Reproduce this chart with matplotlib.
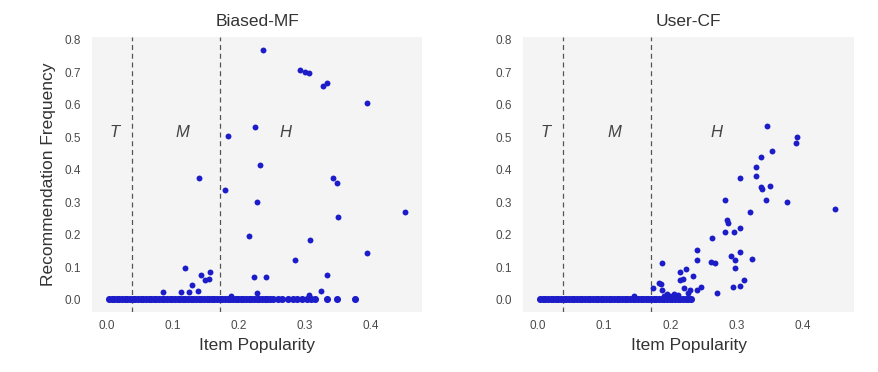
import matplotlib
matplotlib.use("Agg")
import matplotlib.pyplot as plt
import numpy as np

plt.rcParams['font.family'] = ['Liberation Sans', 'DejaVu Sans']

titles = ["Biased-MF", "User-CF"]
xticks = [0.0, 0.1, 0.2, 0.3, 0.4]
yticks = [0.0, 0.1, 0.2, 0.3, 0.4, 0.5, 0.6, 0.7, 0.8]
boundaries = [0.038, 0.171]
region_labels = ["T", "M", "H"]
region_x = [0.012, 0.115, 0.27]
region_y = 0.515

# Biased-MF: items with non-zero recommendation frequency
mf_x = [0.2365, 0.293, 0.2997, 0.306, 0.327, 0.333, 0.394, 0.225, 0.1835, 0.232,
        0.140, 0.342, 0.348, 0.179, 0.228, 0.350, 0.215, 0.308, 0.394, 0.285,
        0.118, 0.333, 0.142, 0.156, 0.154, 0.149, 0.223, 0.241, 0.129, 0.138,
        0.085, 0.112, 0.125, 0.324, 0.228, 0.307, 0.188, 0.452]
mf_y = [0.768, 0.707, 0.702, 0.698, 0.659, 0.668, 0.606, 0.530, 0.504, 0.415,
        0.373, 0.373, 0.360, 0.337, 0.299, 0.253, 0.195, 0.183, 0.143, 0.121,
        0.098, 0.076, 0.076, 0.086, 0.064, 0.059, 0.068, 0.068, 0.046, 0.027,
        0.023, 0.023, 0.023, 0.027, 0.019, 0.013, 0.010, 0.268]
# Biased-MF: items (popularity) that are (almost) never recommended
mf_zero_x = [0.003, 0.007, 0.011, 0.015, 0.019, 0.023, 0.027, 0.031, 0.035, 0.039,
             0.043, 0.047, 0.051, 0.055, 0.059, 0.063, 0.067, 0.071, 0.075, 0.079,
             0.083, 0.087, 0.091, 0.095, 0.099, 0.103, 0.107, 0.111, 0.115, 0.119,
             0.123, 0.127, 0.131, 0.135, 0.139, 0.143, 0.147, 0.151, 0.155, 0.159,
             0.163, 0.167, 0.171, 0.175, 0.179, 0.183, 0.187, 0.191, 0.195, 0.199,
             0.203, 0.207, 0.211, 0.215, 0.219, 0.223, 0.227, 0.231, 0.235, 0.239,
             0.243, 0.247, 0.251, 0.259, 0.266, 0.274, 0.282, 0.288, 0.295, 0.303,
             0.310, 0.315, 0.334, 0.349, 0.376]
mf_zero_y = [0.002, 0.000, 0.002, 0.000, 0.001, 0.000, 0.002, 0.000, 0.001, 0.000,
             0.002, 0.000, 0.001, 0.000, 0.002, 0.000, 0.001, 0.000, 0.002, 0.000,
             0.001, 0.000, 0.002, 0.000, 0.001, 0.000, 0.002, 0.000, 0.001, 0.000,
             0.002, 0.000, 0.001, 0.000, 0.002, 0.000, 0.001, 0.000, 0.002, 0.000,
             0.001, 0.000, 0.002, 0.000, 0.001, 0.000, 0.002, 0.000, 0.001, 0.000,
             0.002, 0.000, 0.001, 0.000, 0.002, 0.000, 0.001, 0.000, 0.002, 0.000,
             0.001, 0.000, 0.000, 0.000, 0.000, 0.000, 0.000, 0.000, 0.000, 0.000,
             0.000, 0.000, 0.000, 0.000, 0.000]

# User-CF: items with non-zero recommendation frequency
cf_x = [0.346, 0.392, 0.390, 0.353, 0.337, 0.330, 0.330, 0.305, 0.337, 0.338,
        0.351, 0.344, 0.376, 0.449, 0.283, 0.320, 0.286, 0.287, 0.283, 0.296,
        0.305, 0.263, 0.241, 0.305, 0.241, 0.291, 0.298, 0.324, 0.262, 0.268,
        0.187, 0.298, 0.224, 0.215, 0.219, 0.215, 0.235, 0.311, 0.183, 0.186,
        0.294, 0.305, 0.247, 0.174, 0.271, 0.220, 0.230, 0.240, 0.188, 0.145,
        0.195, 0.200, 0.206, 0.212, 0.226, 0.228, 0.191]
cf_y = [0.535, 0.499, 0.482, 0.457, 0.438, 0.407, 0.381, 0.375, 0.347, 0.341,
        0.350, 0.306, 0.301, 0.279, 0.306, 0.271, 0.246, 0.236, 0.209, 0.209,
        0.221, 0.188, 0.152, 0.147, 0.122, 0.133, 0.122, 0.125, 0.117, 0.112,
        0.112, 0.097, 0.094, 0.086, 0.064, 0.061, 0.072, 0.059, 0.051, 0.049,
        0.038, 0.042, 0.038, 0.034, 0.020, 0.036, 0.028, 0.028, 0.028, 0.012,
        0.016, 0.012, 0.018, 0.014, 0.020, 0.006, 0.010]
cf_zero_x = [0.003, 0.007, 0.011, 0.015, 0.019, 0.023, 0.027, 0.031, 0.035, 0.039,
             0.043, 0.047, 0.051, 0.055, 0.059, 0.063, 0.067, 0.071, 0.075, 0.079,
             0.083, 0.087, 0.091, 0.095, 0.099, 0.103, 0.107, 0.111, 0.115, 0.119,
             0.123, 0.127, 0.131, 0.135, 0.139, 0.143, 0.147, 0.151, 0.155, 0.159,
             0.163, 0.167, 0.171, 0.175, 0.179, 0.183, 0.187, 0.191, 0.195, 0.199,
             0.203, 0.207, 0.211, 0.215, 0.219, 0.223, 0.227, 0.231]
cf_zero_y = [0.002, 0.000, 0.002, 0.000, 0.001, 0.000, 0.002, 0.000, 0.001, 0.000,
             0.002, 0.000, 0.001, 0.000, 0.002, 0.000, 0.001, 0.000, 0.002, 0.000,
             0.001, 0.000, 0.002, 0.000, 0.001, 0.000, 0.002, 0.000, 0.001, 0.000,
             0.002, 0.000, 0.001, 0.000, 0.002, 0.000, 0.001, 0.000, 0.002, 0.000,
             0.001, 0.000, 0.002, 0.000, 0.001, 0.000, 0.002, 0.000, 0.001, 0.000,
             0.002, 0.000, 0.001, 0.000, 0.002, 0.000, 0.001, 0.000]

point_color = "#1c1cc8"
fig = plt.figure(figsize=(8.79, 3.72), dpi=100)
ax_l = fig.add_axes([0.1047, 0.1613, 0.3754, 0.7392])
ax_r = fig.add_axes([0.595, 0.1613, 0.3766, 0.7392])

datasets = [(mf_x, mf_y, mf_zero_x, mf_zero_y), (cf_x, cf_y, cf_zero_x, cf_zero_y)]
for ax, title, (xs, ys, zx, zy) in zip([ax_l, ax_r], titles, datasets):
    ax.set_facecolor("#f4f4f4")
    for s in ax.spines.values():
        s.set_visible(False)
    ax.scatter(zx, zy, s=26, color=point_color, linewidths=0, zorder=3)
    ax.scatter(xs, ys, s=18, color=point_color, linewidths=0, zorder=3)
    for b in boundaries:
        ax.axvline(b, color="#555555", linestyle=(0, (4, 3)), linewidth=0.9, zorder=2)
    for lab, lx in zip(region_labels, region_x):
        ax.text(lx, region_y, lab, fontsize=12, style="italic", color="#444444",
                ha="center", va="center")
    ax.set_xlim(-0.0226, 0.4776)
    ax.set_ylim(-0.0385, 0.8085)
    ax.set_xticks(xticks)
    ax.set_xticklabels(["0.0", "0.1", "0.2", "0.3", "0.4"])
    ax.set_yticks(yticks)
    ax.set_yticklabels(["0.0", "0.1", "0.2", "0.3", "0.4", "0.5", "0.6", "0.7", "0.8"])
    ax.tick_params(axis="both", length=0, labelsize=8.5, labelcolor="#4a4a4a")
    ax.tick_params(axis="y", pad=8)
    ax.tick_params(axis="x", pad=6)
    ax.set_title(title, fontsize=12.5, color="#333333", pad=8)
    ax.set_xlabel("Item Popularity", fontsize=12.5, color="#333333", labelpad=4)

ax_l.set_ylabel("Recommendation Frequency", fontsize=12.5, color="#333333", labelpad=6)

fig.savefig("out.png", dpi=100, facecolor="white")
